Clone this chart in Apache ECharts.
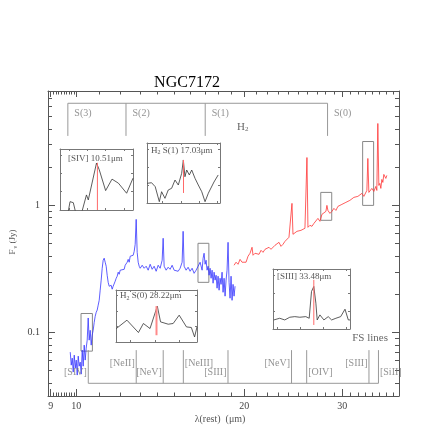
<!DOCTYPE html>
<html>
<head>
<meta charset="utf-8">
<script src="https://cdn.jsdelivr.net/npm/echarts@6/dist/echarts.min.js"></script>
<style>
html, body { margin: 0; padding: 0; background: #fff; }
#chart { width: 436px; height: 436px; }
</style>
</head>
<body>
<div id="chart"></div>
<script>
// spectrum, short-wavelength part (um, Jy)
var blueWave = [9.756, 9.796, 9.837, 9.877, 9.918, 9.959, 10.00, 10.041, 10.083, 10.124,
    10.166, 10.208, 10.250, 10.292, 10.335, 10.377, 10.420, 10.463, 10.506, 10.549,
    10.593, 10.637, 10.681, 10.725, 10.770, 10.814, 10.859, 10.904, 10.949, 10.994,
    11.039, 11.085, 11.131, 11.177, 11.223, 11.269, 11.316, 11.363, 11.410, 11.457,
    11.504, 11.552, 11.600, 11.648, 11.696, 11.744, 11.793, 11.842, 11.891, 11.940,
    11.990, 12.089, 12.189, 12.239, 12.290, 12.341, 12.392, 12.443, 12.495, 12.546,
    12.598, 12.650, 12.703, 12.755, 12.808, 12.861, 12.914, 12.967, 13.021, 13.129,
    13.237, 13.347, 13.457, 13.569, 13.681, 13.794, 13.909, 14.024, 14.140, 14.257,
    14.316, 14.375, 14.494, 14.614, 14.735, 14.857, 14.980, 15.104, 15.229, 15.355,
    15.482, 15.546, 15.610, 15.740, 15.870, 16.001, 16.134, 16.268, 16.402, 16.538,
    16.675, 16.813, 16.883, 16.952, 17.022, 17.093, 17.163, 17.234, 17.306, 17.377,
    17.449, 17.521, 17.593, 17.666, 17.739, 17.812, 17.886, 17.959, 18.034, 18.108,
    18.183, 18.258, 18.334, 18.409, 18.486, 18.562, 18.638, 18.715, 18.793, 18.870,
    18.948, 19.026, 19.105, 19.184, 19.263];
var blueFlux = [0.0700, 0.0553, 0.0628, 0.0488, 0.0663, 0.0524, 0.0606, 0.0462, 0.0651, 0.0543,
    0.0584, 0.0470, 0.0726, 0.0543, 0.0795, 0.0606, 0.0753, 0.0870, 0.130, 0.0870,
    0.104, 0.0795, 0.0953, 0.104, 0.120, 0.134, 0.144, 0.150, 0.164, 0.179,
    0.215, 0.258, 0.320, 0.370, 0.384, 0.357, 0.332, 0.282, 0.248, 0.231,
    0.227, 0.235, 0.219, 0.231, 0.239, 0.253, 0.267, 0.277, 0.298, 0.287,
    0.309, 0.320, 0.314, 0.338, 0.326, 0.357, 0.376, 0.357, 0.398, 0.384,
    0.412, 0.405, 0.435, 0.494, 0.776, 0.427, 0.357, 0.332, 0.320, 0.338,
    0.320, 0.332, 0.309, 0.344, 0.314, 0.332, 0.303, 0.338, 0.320, 0.370,
    0.551, 0.332, 0.309, 0.326, 0.314, 0.338, 0.309, 0.320, 0.303, 0.320,
    0.357, 0.625, 0.332, 0.309, 0.326, 0.303, 0.320, 0.292, 0.309, 0.332,
    0.357, 0.309, 0.384, 0.420, 0.344, 0.370, 0.309, 0.332, 0.282, 0.320,
    0.267, 0.309, 0.244, 0.298, 0.258, 0.282, 0.223, 0.277, 0.215, 0.267,
    0.239, 0.298, 0.207, 0.267, 0.193, 0.258, 0.309, 0.512, 0.248, 0.186,
    0.277, 0.179, 0.239, 0.193, 0.231];

// spectrum, long-wavelength part
var redWave = [19.184, 19.343, 19.503, 19.665, 19.827, 19.991, 20.157, 20.324, 20.492, 20.662,
    20.747, 20.919, 21.092, 21.266, 21.442, 21.620, 21.799, 21.979, 22.161, 22.345,
    22.530, 22.716, 22.904, 23.094, 23.285, 23.478, 23.672, 23.868, 24.066, 24.265,
    24.365, 24.466, 24.668, 24.872, 25.078, 25.286, 25.495, 25.706, 25.919, 26.026,
    26.241, 26.459, 26.678, 26.898, 27.121, 27.346, 27.572, 27.800, 28.030, 28.146,
    28.262, 28.496, 28.732, 28.970, 29.210, 29.452, 29.695, 29.941, 30.189, 30.439,
    30.691, 30.945, 31.201, 31.459, 31.719, 31.982, 32.247, 32.514, 32.783, 33.054,
    33.191, 33.328, 33.466, 33.604, 33.882, 34.162, 34.445, 34.587, 34.730, 34.874,
    35.018, 35.163, 35.308, 35.454, 35.600, 35.747, 35.895, 36.043];
var redFlux = [0.338, 0.357, 0.344, 0.376, 0.357, 0.370, 0.357, 0.398, 0.420, 0.468,
    0.405, 0.420, 0.435, 0.412, 0.443, 0.427, 0.451, 0.435, 0.468, 0.451,
    0.459, 0.485, 0.468, 0.512, 0.476, 0.494, 0.521, 0.531, 0.561, 0.571,
    1.037, 0.592, 0.603, 0.625, 0.614, 0.636, 0.648, 0.660, 2.38, 0.672,
    0.697, 0.684, 0.722, 0.735, 0.790, 0.749, 0.850, 0.881, 0.897, 1.0,
    0.913, 0.865, 0.897, 0.947, 0.913, 0.982, 0.965, 1.018, 1.0, 1.056,
    1.037, 1.095, 1.075, 1.156, 1.115, 1.177, 1.156, 1.242, 1.177, 1.220,
    1.311, 2.34, 1.265, 1.220, 1.360, 1.288, 1.410, 1.311, 4.41, 1.436,
    1.489, 1.360, 1.600, 1.516, 1.752, 1.816, 1.630, 1.721];

// H2 rotational lines
var h2Names = ['S(3)', 'S(2)', 'S(1)', 'S(0)'];
var h2Waves = [9.66, 12.28, 17.03, 28.22];

// fine structure lines
var fsNames = ['[SIV]', '[NeII]', '[NeV]', '[NeIII]', '[SIII]', '[NeV]', '[OIV]', '[SIII]', '[SiII]'];
var fsWaves = [10.51, 12.81, 14.32, 15.56, 18.71, 24.32, 25.89, 33.48, 34.82];

// boxes drawn round the zoomed lines (um, Jy)
var boxWaveLo = [10.20, 16.53, 27.44, 32.62];
var boxWaveHi = [10.69, 17.29, 28.71, 34.13];
var boxFluxLo = [0.0713, 0.248, 0.763, 1.0];
var boxFluxHi = [0.141, 0.503, 1.265, 3.18];

// zoomed line profiles (um, normalised flux)
var insetCenter = [10.51, 17.03, 28.22, 33.48];
var sivWave = [10.19, 10.21, 10.246, 10.27, 10.30, 10.34, 10.39, 10.41, 10.50, 10.53, 10.60, 10.67, 10.74, 10.83, 10.90];
var sivFlux = [-0.03, 0.137, 0.12, -0.03, -0.03, -0.03, 0.247, 0.165, 0.77, 0.66, 0.318, 0.506, 0.44, 0.275, 0.522];
var s1Wave = [16.633, 16.68, 16.72, 16.765, 16.79, 16.827, 16.863, 16.90, 16.937, 16.973, 17.01, 17.028,
    17.046, 17.065, 17.094, 17.12, 17.156, 17.192, 17.23, 17.266, 17.302, 17.32, 17.364, 17.41];
var s1Flux = [0.328, 0.338, 0.272, 0.022, 0.188, 0.078, 0.217, 0.245, 0.383, 0.30, 0.495, 0.717,
    0.438, 0.55, 0.467, 0.55, 0.412, 0.30, 0.188, 0.022, 0.162, 0.217, 0.35, 0.467];
var s0Wave = [27.724, 27.855, 27.997, 28.058, 28.14, 28.23, 28.27, 28.365, 28.426, 28.50, 28.59, 28.65, 28.69, 28.72];
var s0Flux = [0.259, 0.42, 0.182, 0.356, 0.259, 0.69, 0.387, 0.342, 0.356, 0.516, 0.29, 0.279, 0.097, 0.29];
var s3Wave = [32.96, 33.037, 33.103, 33.168, 33.233, 33.298, 33.376, 33.42, 33.45, 33.48, 33.507,
    33.524, 33.559, 33.611, 33.667, 33.711, 33.767, 33.829, 33.885, 33.928, 33.95];
var s3Flux = [0.151, 0.179, 0.151, 0.196, 0.206, 0.196, 0.206, 0.179, 0.625, 0.709, 0.43,
    0.151, 0.235, 0.151, 0.206, 0.151, 0.179, 0.206, 0.33, 0.151, 0.151];
// red marker in each inset: bottom and top (normalised flux)
var insetMarkLo = [0, 0.167, 0.13, 0.067];
var insetMarkHi = [0.774, 0.717, 0.69, 0.82];

// tick values
var xMajorTicks = [9, 10, 20, 30];
var xMinorTicks = [9.1, 9.2, 9.3, 9.4, 9.5, 9.6, 9.7, 9.8, 9.9, 11, 12, 13, 14, 15, 16, 17, 18, 19,
    21, 22, 23, 24, 25, 26, 27, 28, 29, 31, 32, 33, 34, 35, 36, 37];
var yMajorTicks = [0.1, 1];
var yMinorTicks = [0.04, 0.05, 0.06, 0.07, 0.08, 0.09, 0.2, 0.3, 0.4, 0.5, 0.6, 0.7, 0.8, 0.9,
    2, 3, 4, 5, 6, 7];

var SERIF = '"Liberation Serif", "DejaVu Serif", serif';
var AXIS_COLOR = '#555';
var X_MIN = Math.log10(8.9), X_MAX = Math.log10(37.9);
var Y_MIN = -1.5, Y_MAX = 0.9;

function lg(v) { return Math.log10(v); }

function logPairs(xs, ys) {
    var out = [];
    for (var i = 0; i < xs.length; i++) out.push([lg(xs[i]), lg(ys[i])]);
    return out;
}
function linPairs(xs, ys) {
    var out = [];
    for (var i = 0; i < xs.length; i++) out.push([xs[i], ys[i]]);
    return out;
}

function tickFmt(v) {
    var n = Math.pow(10, v);
    return n < 1 ? n.toFixed(1) : String(Math.round(n));
}

/* main frame axes: one set for long ticks, one for short ones, on all four sides */
function mainAxis(dim, pos, ticks, len, showLine, showLabel) {
    var vals = ticks.map(lg);
    return {
        type: 'value', gridIndex: 0, position: pos,
        min: dim === 'x' ? X_MIN : Y_MIN,
        max: dim === 'x' ? X_MAX : Y_MAX,
        axisLine: { show: showLine, onZero: false, lineStyle: { color: AXIS_COLOR, width: 1 } },
        axisTick: { show: true, inside: true, length: len, customValues: vals, lineStyle: { color: AXIS_COLOR, width: 1 } },
        axisLabel: showLabel ? {
            show: true, customValues: vals, formatter: tickFmt, color: '#444',
            fontFamily: SERIF, fontSize: 10, margin: dim === 'x' ? 5 : 8
        } : { show: false },
        splitLine: { show: false }
    };
}

var insetGrids = [
    { left: 60, top: 149, width: 73, height: 61 },
    { left: 147, top: 143, width: 73, height: 60 },
    { left: 116, top: 290, width: 81, height: 52 },
    { left: 273, top: 269, width: 77, height: 60 }
];
var insetRange = [[10.1, 10.9], [16.63, 17.43], [27.72, 28.72], [32.95, 33.95]];
var insetWave = [sivWave, s1Wave, s0Wave, s3Wave];
var insetFlux = [sivFlux, s1Flux, s0Flux, s3Flux];

function insetAxis(gi, pos, range, isX) {
    return {
        type: 'value', gridIndex: gi, position: pos, min: range[0], max: range[1],
        splitNumber: isX ? 4 : 3,
        axisLine: { show: true, onZero: false, lineStyle: { color: '#777', width: 1 } },
        axisTick: { show: true, inside: true, length: 2, lineStyle: { color: '#777' } },
        axisLabel: { show: false },
        splitLine: { show: false }
    };
}

var grids = [{ left: 48, top: 91, width: 351, height: 305, outerBoundsMode: 'none' }];
var xAxes = [
    mainAxis('x', 'bottom', xMajorTicks, 7, true, true),
    mainAxis('x', 'bottom', xMinorTicks, 3.5, false, false),
    mainAxis('x', 'top', xMajorTicks, 6, true, false),
    mainAxis('x', 'top', xMinorTicks, 3.5, false, false)
];
var yAxes = [
    mainAxis('y', 'left', yMajorTicks, 7, true, true),
    mainAxis('y', 'left', yMinorTicks, 4, false, false),
    mainAxis('y', 'right', yMajorTicks, 7, true, false),
    mainAxis('y', 'right', yMinorTicks, 4, false, false)
];

var series = [];

/* H2 bracket and FS bracket */
var h2Top = lg(6.36), h2Bot = lg(3.52);
var h2Lines = [{ coords: [[lg(h2Waves[0]), h2Bot], [lg(h2Waves[0]), h2Top], [lg(h2Waves[3]), h2Top], [lg(h2Waves[3]), h2Bot]] }];
for (var i = 1; i < h2Waves.length - 1; i++) {
    h2Lines.push({ coords: [[lg(h2Waves[i]), h2Top], [lg(h2Waves[i]), h2Bot]] });
}
var fsBot = lg(0.0398), fsTop = lg(0.0726);
var fsLines = [{ coords: [[lg(fsWaves[0]), fsBot], [lg(fsWaves[fsWaves.length - 1]), fsBot]] }];
fsWaves.forEach(function (w) {
    fsLines.push({ coords: [[lg(w), fsBot], [lg(w), fsTop]] });
});
series.push({
    type: 'lines', coordinateSystem: 'cartesian2d', xAxisIndex: 0, yAxisIndex: 0,
    polyline: true, silent: true, z: 1,
    lineStyle: { color: '#999', width: 1, opacity: 1 },
    data: h2Lines.concat(fsLines)
});

/* line labels */
var fsSide = ['left', 'left', 'left', 'right', 'left', 'left', 'right', 'left', 'right'];
var fsHigh = [false, true, false, true, false, true, false, true, false];
var labelData = [];
h2Names.forEach(function (n, i) {
    labelData.push({ name: n, value: [lg(h2Waves[i]), lg(5.31)], label: { position: 'right', distance: 6 } });
});
fsNames.forEach(function (n, i) {
    labelData.push({ name: n, value: [lg(fsWaves[i]), lg(fsHigh[i] ? 0.0574 : 0.0488)], label: { position: fsSide[i], distance: 1 } });
});
series.push({
    type: 'scatter', xAxisIndex: 0, yAxisIndex: 0, symbolSize: 1, silent: true, z: 3,
    itemStyle: { color: 'rgba(0,0,0,0)' },
    label: { show: true, formatter: '{b}', color: '#777', fontFamily: SERIF, fontSize: 10 },
    data: labelData
});

/* spectrum */
var boxes = [];
for (var b = 0; b < boxWaveLo.length; b++) {
    boxes.push([{ coord: [lg(boxWaveLo[b]), lg(boxFluxLo[b])] }, { coord: [lg(boxWaveHi[b]), lg(boxFluxHi[b])] }]);
}
series.push({
    type: 'line', xAxisIndex: 0, yAxisIndex: 0, showSymbol: false, z: 2,
    lineStyle: { color: '#3535ff', width: 0.8 },
    data: logPairs(blueWave, blueFlux),
    markArea: {
        silent: true,
        itemStyle: { color: 'rgba(0,0,0,0)', borderColor: '#888', borderWidth: 1 },
        data: boxes
    }
});
series.push({
    type: 'line', xAxisIndex: 0, yAxisIndex: 0, showSymbol: false, z: 2,
    lineStyle: { color: '#ff3535', width: 0.8 },
    data: logPairs(redWave, redFlux)
});

/* insets */
insetGrids.forEach(function (g, k) {
    var gi = k + 1;
    grids.push({ left: g.left, top: g.top, width: g.width, height: g.height, outerBoundsMode: 'none' });
    xAxes.push(insetAxis(gi, 'bottom', insetRange[k], true));
    xAxes.push(insetAxis(gi, 'top', insetRange[k], true));
    yAxes.push(insetAxis(gi, 'left', [0, 1], false));
    yAxes.push(insetAxis(gi, 'right', [0, 1], false));
    var ax = 4 + 2 * k;
    series.push({
        type: 'line', xAxisIndex: ax, yAxisIndex: ax, showSymbol: false, z: 4,
        lineStyle: { color: '#333', width: 0.8 },
        data: linPairs(insetWave[k], insetFlux[k])
    });
    series.push({
        type: 'line', xAxisIndex: ax, yAxisIndex: ax, showSymbol: false, z: 5,
        lineStyle: { color: k === 2 ? '#ff8a8a' : '#ff6a6a', width: k === 2 ? 2 : 1 },
        data: [[insetCenter[k], insetMarkLo[k]], [insetCenter[k], insetMarkHi[k]]]
    });
});

function smallText(x, y, txt) {
    return {
        type: 'text', x: x, y: y, silent: true,
        style: { text: txt, fill: '#555', fontFamily: SERIF, fontSize: 9, align: 'left', verticalAlign: 'middle',
            rich: {
                n: { fill: '#555', fontFamily: SERIF, fontSize: 9 },
                s: { fill: '#555', fontFamily: SERIF, fontSize: 6, padding: [4, 0, 0, 0] }
            }
        }
    };
}

var graphic = [
    { type: 'text', x: 187, y: 83, silent: true,
        style: { text: 'NGC7172', fill: '#000', fontFamily: SERIF, fontSize: 16, align: 'center', verticalAlign: 'middle' } },
    { type: 'text', x: 13, y: 242, rotation: Math.PI / 2, silent: true,
        style: { text: '{n|F}{s|ν}{n| (Jy)}', align: 'center', verticalAlign: 'middle',
            rich: {
                n: { fill: '#555', fontFamily: SERIF, fontSize: 9 },
                s: { fill: '#555', fontFamily: SERIF, fontSize: 6, padding: [4, 0, 0, 1] }
            } } },
    { type: 'text', x: 220, y: 419, silent: true,
        style: { text: 'λ(rest)  (μm)', fill: '#555', fontFamily: SERIF, fontSize: 10, align: 'center', verticalAlign: 'middle' } },
    { type: 'text', x: 388, y: 338, silent: true,
        style: { text: 'FS lines', fill: '#666', fontFamily: SERIF, fontSize: 11, align: 'right', verticalAlign: 'middle' } },
    { type: 'text', x: 237, y: 127, silent: true,
        style: { text: '{n|H}{s|2}', align: 'left', verticalAlign: 'middle',
            rich: {
                n: { fill: '#666', fontFamily: SERIF, fontSize: 11 },
                s: { fill: '#666', fontFamily: SERIF, fontSize: 7, padding: [5, 0, 0, 0] }
            } } },
    smallText(68, 159, '{n|[SIV] 10.51μm}'),
    smallText(151, 150.5, '{n|H}{s|2}{n| S(1) 17.03μm}'),
    smallText(120, 296, '{n|H}{s|2}{n| S(0) 28.22μm}'),
    smallText(277, 277, '{n|[SIII] 33.48μm}')
];

var chart = echarts.init(document.getElementById('chart'));
chart.setOption({
    animation: false,
    backgroundColor: '#fff',
    grid: grids,
    xAxis: xAxes,
    yAxis: yAxes,
    graphic: graphic,
    series: series
});
</script>
</body>
</html>
